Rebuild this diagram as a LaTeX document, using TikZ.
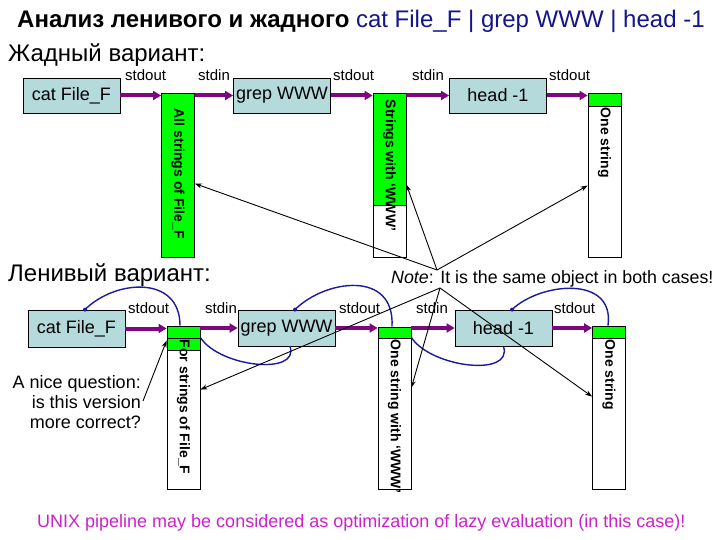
\documentclass[tikz,border=0pt]{standalone}
\usepackage{fontspec}
\setmainfont{Liberation Sans}
\usetikzlibrary{arrows.meta,calc}
\definecolor{boxblue}{HTML}{B4DADC}
\definecolor{pipe}{HTML}{7E067E}
\definecolor{lazy}{HTML}{1A1A9A}
\definecolor{titleblue}{HTML}{14148C}
\definecolor{mag}{HTML}{CC22CC}
\definecolor{brgreen}{HTML}{00FF00}
\begin{document}
\begin{tikzpicture}[x=1pt,y=-1pt,
  proc/.style={draw, fill=boxblue, line width=0.8pt, minimum width=97pt, minimum height=35pt, inner sep=0pt, font=\fontsize{18}{20}\selectfont},
  lproc/.style={proc, minimum height=36pt},
  bar/.style={draw, fill=white, line width=0.8pt, minimum width=33pt, minimum height=164pt, inner sep=0pt},
  lbar/.style={bar, minimum height=163pt},
  cell/.style={draw, fill=brgreen, line width=0.8pt, minimum width=33pt, inner sep=0pt, anchor=north},
  vlabel/.style={rotate=-90, anchor=west, font=\bfseries\fontsize{14}{16}\selectfont, inner sep=0pt},
  io/.style={font=\fontsize{15}{17}\selectfont, inner sep=0pt, anchor=base west},
  pipearrow/.style={draw=pipe, line width=4pt, -{Triangle[length=8pt,width=9pt]}},
  ptr/.style={draw=black, line width=0.9pt, -{Stealth[length=7pt,width=5pt]}},
  lazyc/.style={draw=lazy, line width=1.4pt},
  big/.style={font=\fontsize{24}{28}\selectfont, inner sep=0pt, anchor=base west}
]
\useasboundingbox[fill=white] (0,0) rectangle (720,540);

% titles
\node[big] (title) at (17,28) {\textbf{Анализ ленивого и жадного} \textcolor{titleblue}{cat File\_F | grep WWW | head -1}};
\node[big] (greedy) at (8,62) {Жадный вариант:};
\node[big] (lazyt) at (8,281) {Ленивый вариант:};

% ---------- greedy row ----------
\node[proc] (cat1) at (71.5,95.5) {cat File\_F};
\node[bar, fill=brgreen] (b1) at (178,175) {};
\node[proc] (grep1) at (282,95.5) {grep WWW};
\node[bar] (b2) at (389.5,175) {};
\node[cell, minimum height=112pt] (b2g) at (b2.north) {};
\node[proc] (head1) at (498,95.5) {head -1};
\node[bar] (b3) at (604.5,175) {};
\node[cell, minimum height=13pt] (b3g) at (b3.north) {};

\node[vlabel] (t1) at ($(b1.north)+(0,16)$) {All strings of File\_F};
\node[vlabel] (t2) at ($(b2.north)+(0,7)$) {Strings with `WWW'};
\node[vlabel] (t3) at ($(b3.north)+(0,15)$) {One string};

\node[io] (o1) at (125,81) {stdout};
\node[io] (i1) at (198,81) {stdin};
\node[io] (o2) at (333,81) {stdout};
\node[io] (i2) at (412,81) {stdin};
\node[io] (o3) at (549,81) {stdout};

\draw[pipearrow] (cat1.east) -- (cat1.east -| b1.west);
\draw[pipearrow] (grep1.west -| b1.east) -- (grep1.west);
\draw[pipearrow] (grep1.east) -- (grep1.east -| b2.west);
\draw[pipearrow] (head1.west -| b2.east) -- (head1.west);
\draw[pipearrow] (head1.east) -- (head1.east -| b3.west);

% ---------- lazy row ----------
\node[lproc, minimum height=37pt] (cat2) at (76.5,328.5) {cat File\_F};
\node[lbar] (b4) at (183.5,407.5) {};
\node[cell, minimum height=12pt] (b4g) at (b4.north) {};
\node[cell, minimum height=12pt] (b4h) at (b4g.south) {};
\node[lproc] (grep2) at (286.5,328) {grep WWW};
\node[lbar, minimum height=162pt] (b5) at (394.5,408) {};
\node[cell, minimum height=11pt] (b5g) at (b5.north) {};
\node[lproc] (head2) at (503.5,328) {head -1};
\node[lbar] (b6) at (609,407.5) {};
\node[cell, minimum height=12pt] (b6g) at (b6.north) {};

\node[vlabel] (t4) at ($(b4.north)+(0,14)$) {For strings of File\_F};
\node[vlabel] (t5) at ($(b5.north)+(0,13)$) {One string with `WWW'};
\node[vlabel] (t6) at ($(b6.north)+(0,14)$) {One string};

\node[io] (o4) at (128,313) {stdout};
\node[io] (i3) at (205,313) {stdin};
\node[io] (o5) at (339,313) {stdout};
\node[io] (i4) at (416,313) {stdin};
\node[io] (o6) at (554,313) {stdout};

\draw[pipearrow] (cat2.east) -- (cat2.east -| b4.west);
\draw[pipearrow] (grep2.west -| b4.east) -- (grep2.west);
\draw[pipearrow] (grep2.east) -- (grep2.east -| b5.west);
\draw[pipearrow] (head2.west -| b5.east) -- (head2.west);
\draw[pipearrow] (head2.east) -- (head2.east -| b6.west);

% lazy control curves
\coordinate (s1) at ($(cat2.north)+(8.5,0)$);
\coordinate (s2) at ($(grep2.north)+(8.5,0)$);
\coordinate (s3) at ($(head2.north)+(8.5,0)$);
\draw[lazyc] (s1) .. controls +(30,-30) and +(0,-51) .. ($(b4.north)+(-3.5,0)$);
\draw[lazyc] (s2) .. controls +(30,-30) and +(3,-57) .. ($(b5.north)+(-2.5,0)$);
\draw[lazyc] (s3) .. controls +(28,-27) and +(7,-51) .. ($(b6.north)+(-1,0)$);
\fill[lazy] (s1) circle (2);
\fill[lazy] (s2) circle (2);
\fill[lazy] (s3) circle (2);
\draw[lazyc] ($(b4.north east)+(0,12)$) .. controls +(20,30) and +(10,29) .. ($(grep2.south)+(3.5,0)$);
\draw[lazyc] ($(b5.north east)+(0,11)$) .. controls +(20,30) and +(10,31) .. (head2.south);

% note
\node[font=\fontsize{17.8}{20}\selectfont, inner sep=0pt, anchor=base west] (note) at (391,283) {\textit{Note}: It is the same object in both cases!};
\coordinate (n1) at (437,270);
\coordinate (n2) at (440,288);
\draw[ptr] (n1) -- ($(b1.north east)+(0,91)$);
\draw[ptr] (n1) -- ($(b2.north east)+(0,92)$);
\draw[ptr] (n1) -- ($(b3.north west)+(0,93)$);
\draw[ptr] (n2) -- ($(b4.north east)+(0,64)$);
\draw[ptr] (n2) -- ($(b5.north east)+(0,61)$);
\draw[ptr] (n2) -- ($(b6.north west)+(0,71)$);

% question
\node[font=\fontsize{18}{20}\selectfont, inner sep=0pt, align=right, anchor=north east] (q) at (141,375) {A nice question:\\ is this version\\ more correct?};
\coordinate (qa) at (143,401);
\draw[ptr] (qa) -- ($(b4.north west)+(0,15)$);

% bottom
\node[font=\fontsize{18}{20}\selectfont, text=mag, inner sep=0pt, anchor=base west] (bottom) at (37,527) {UNIX pipeline may be considered as optimization of lazy evaluation (in this case)!};
\end{tikzpicture}
\end{document}
